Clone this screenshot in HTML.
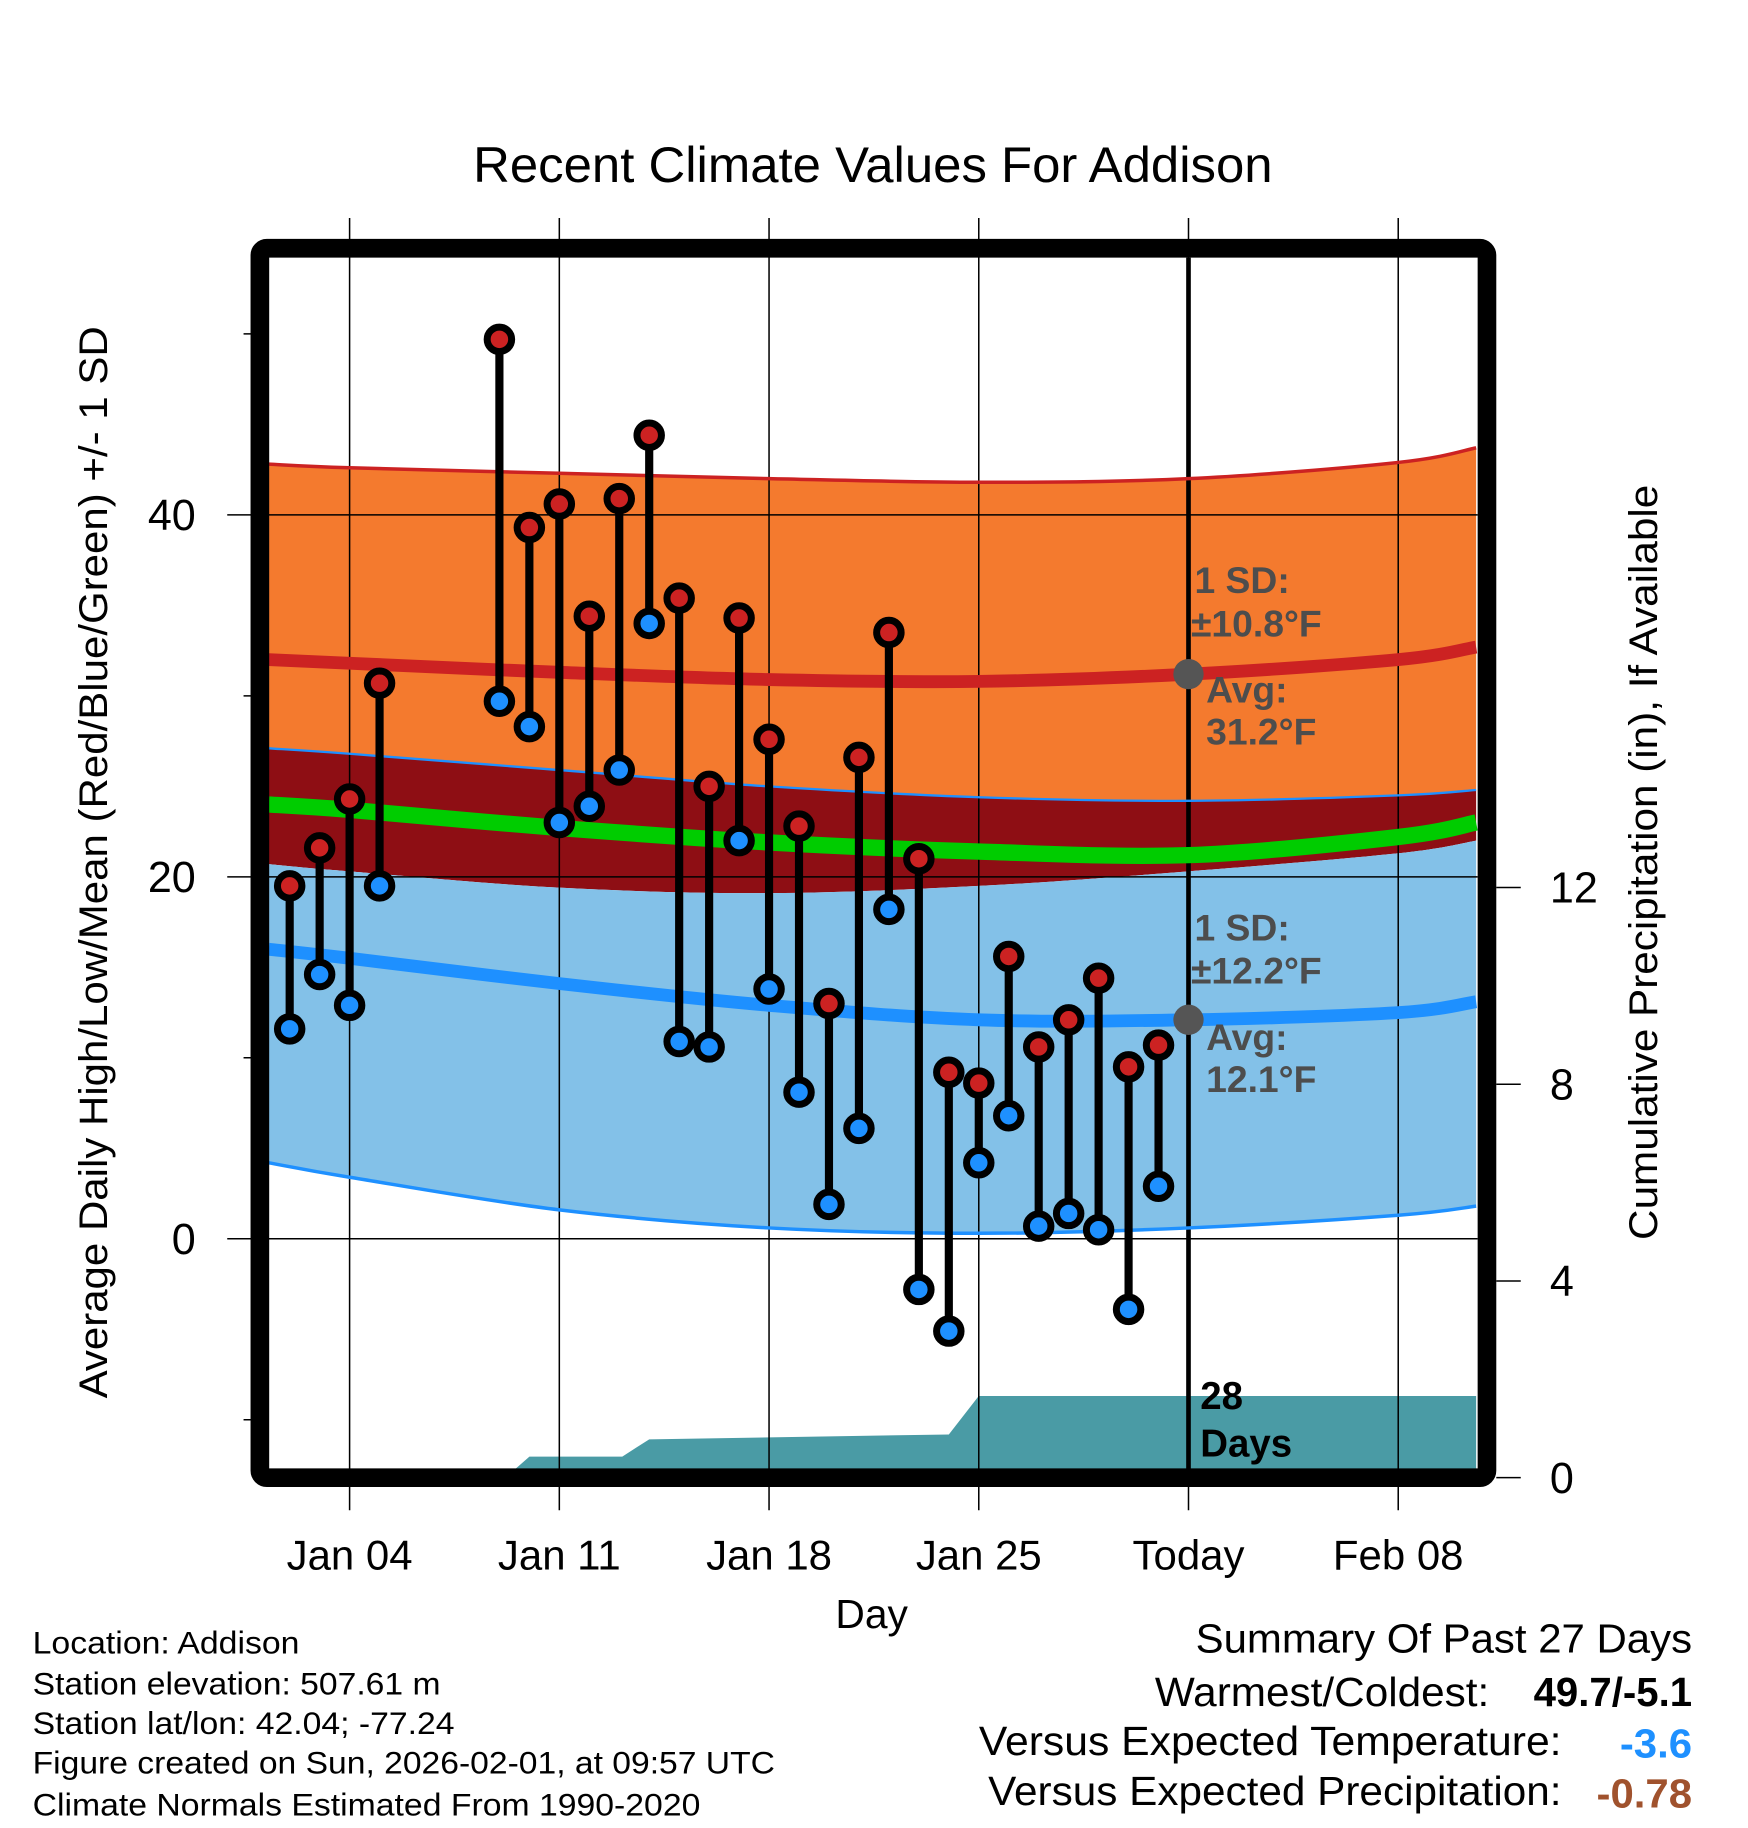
<!DOCTYPE html>
<html><head><meta charset="utf-8"><style>
html,body{margin:0;padding:0;background:#fff}
svg{display:block;font-family:"Liberation Sans",Arial,sans-serif}
</style></head><body>
<svg id="chart" xmlns="http://www.w3.org/2000/svg" width="1748" height="1828" viewBox="0 0 1500 1568.6">
<text x="749" y="156" font-size="43" text-anchor="middle" textLength="686" lengthAdjust="spacingAndGlyphs">Recent Climate Values For Addison</text>
<g id="fills"></g>
<g id="grid"></g>
<g id="lines"></g>
<g id="marks"></g>
<g id="annot"></g>
<rect x="223" y="213" width="1053" height="1055" rx="6" fill="none" stroke="#000" stroke-width="16"/>
<g id="axes"></g>
<text transform="translate(92,740) rotate(-90)" font-size="34" text-anchor="middle" textLength="920" lengthAdjust="spacingAndGlyphs">Average Daily High/Low/Mean (Red/Blue/Green) +/- 1 SD</text>
<text transform="translate(1422,740) rotate(-90)" font-size="34" text-anchor="middle" textLength="648" lengthAdjust="spacingAndGlyphs">Cumulative Precipitation (in), If Available</text>
<text x="748" y="1397" font-size="35" text-anchor="middle">Day</text>
<g font-size="27">
<text x="28" y="1419" textLength="229" lengthAdjust="spacingAndGlyphs">Location: Addison</text>
<text x="28" y="1454" textLength="350" lengthAdjust="spacingAndGlyphs">Station elevation: 507.61 m</text>
<text x="28" y="1488" textLength="362" lengthAdjust="spacingAndGlyphs">Station lat/lon: 42.04; -77.24</text>
<text x="28" y="1522" textLength="637" lengthAdjust="spacingAndGlyphs">Figure created on Sun, 2026-02-01, at 09:57 UTC</text>
<text x="28" y="1558" textLength="573" lengthAdjust="spacingAndGlyphs">Climate Normals Estimated From 1990-2020</text>
</g>
<g font-size="35" text-anchor="end">
<text x="1452" y="1418" textLength="426" lengthAdjust="spacingAndGlyphs">Summary Of Past 27 Days</text>
<text x="1278" y="1464" textLength="287" lengthAdjust="spacingAndGlyphs">Warmest/Coldest:</text>
<text x="1452" y="1464" font-weight="bold" textLength="136" lengthAdjust="spacingAndGlyphs">49.7/-5.1</text>
<text x="1340" y="1506" textLength="500" lengthAdjust="spacingAndGlyphs">Versus Expected Temperature:</text>
<text x="1452" y="1508" font-weight="bold" fill="#1E90FF" textLength="62" lengthAdjust="spacingAndGlyphs">-3.6</text>
<text x="1340" y="1549" textLength="492" lengthAdjust="spacingAndGlyphs">Versus Expected Precipitation:</text>
<text x="1452" y="1551" font-weight="bold" fill="#A0522D" textLength="82" lengthAdjust="spacingAndGlyphs">-0.78</text>
</g>
</svg>
<script>
const obsDays=[2,3,4,5,9,10,11,12,13,14,15,16,17,18,19,20,21,22,23,24,25,26,27,28,29,30,31];
const obsHigh=[19.5,21.6,24.3,30.7,49.7,39.3,40.6,34.4,40.9,44.4,35.4,25.0,34.3,27.6,22.8,13.0,26.6,33.5,21.0,9.2,8.6,15.6,10.6,12.1,14.4,9.5,10.7];
const obsLow=[11.6,14.6,12.9,19.5,29.7,28.3,23.0,23.9,25.9,34.0,10.9,10.6,22.0,13.8,8.1,1.9,6.1,18.2,-2.8,-5.1,4.2,6.8,0.7,1.4,0.5,-3.9,2.9];
const normDays=[1.3,4,11,18,25,32,39,41.6];
const highUpper=[42.8,42.6,42.3,42.0,41.8,42.0,42.9,43.7];
const highAvg=[32.0,31.8,31.3,30.9,30.8,31.2,32.0,32.7];
const highLower=[27.1,26.8,25.9,25.0,24.4,24.2,24.5,24.8];
const meanAvg=[24.0,23.7,22.7,21.9,21.4,21.2,22.2,23.0];
const lowUpper=[20.7,20.3,19.4,19.1,19.5,20.3,21.3,22.0];
const lowAvg=[16.0,15.5,14.1,12.9,12.1,12.1,12.5,13.1];
const lowLower=[4.2,3.4,1.6,0.6,0.3,0.6,1.3,1.8];
const precipDays=[1.3,9.2,10,13.1,14,24,25,31,41.6];
const precipCum=[0,0,0.43,0.43,0.78,0.88,1.66,1.66,1.66];
const yTicks=[0,20,40];
const yMinor=[-10,10,30,50];
const y2Ticks=[0,4,8,12];
const xTickDays=[4,11,18,25,32,39];
const xTickLabels=['Jan 04','Jan 11','Jan 18','Jan 25','Today','Feb 08'];

const NS='http://www.w3.org/2000/svg';
const X=d=>300+(d-4)*25.71;
const Y=v=>1063-v*15.53;
const P=v=>1268-v*42.2;
function mk(tag,attrs,parent){const e=document.createElementNS(NS,tag);for(const k in attrs)e.setAttribute(k,attrs[k]);document.getElementById(parent).appendChild(e);return e;}
function pts(xs,ys,f){return xs.map((d,i)=>X(d).toFixed(1)+','+f(ys[i]).toFixed(1));}
// smooth curve through points (Catmull-Rom -> Bezier)
function curvePts(arr){return normDays.map((d,i)=>[X(d),Y(arr[i])]);}
function smooth(p,start){
  let s=start?('M'+p[0][0].toFixed(1)+','+p[0][1].toFixed(1)):('L'+p[0][0].toFixed(1)+','+p[0][1].toFixed(1));
  for(let i=0;i<p.length-1;i++){
    const p0=p[i-1]||p[i],p1=p[i],p2=p[i+1],p3=p[i+2]||p[i+1];
    const c1=[p1[0]+(p2[0]-p0[0])/6,p1[1]+(p2[1]-p0[1])/6];
    const c2=[p2[0]-(p3[0]-p1[0])/6,p2[1]-(p3[1]-p1[1])/6];
    s+=' C'+c1.map(v=>v.toFixed(1)).join(',')+' '+c2.map(v=>v.toFixed(1)).join(',')+' '+p2.map(v=>v.toFixed(1)).join(',');
  }
  return s;
}
function band(up,lo,fill,name){
  const d=smooth(curvePts(up),true)+' '+smooth(curvePts(lo).reverse(),false)+' Z';
  const e=mk('path',{d:d,fill:fill},'fills');
  
  
}
band(highUpper,highLower,'#F47A2E','high-sd-band');
band(highLower,lowUpper,'#8E0E14','gap-band');
band(lowUpper,lowLower,'#83C1E8','low-sd-band');
{
  const p=pts(precipDays,precipCum,P);
  p.push(X(41.6).toFixed(1)+',1268',X(1.3).toFixed(1)+',1268');
  const e=mk('polygon',{points:p.join(' '),fill:'#4A9BA5'},'fills');
  
  
}
function line(arr,color,w,name){
  const e=mk('path',{d:smooth(curvePts(arr),true),fill:'none',stroke:color,'stroke-width':w},'lines');
  
  
}
line(highUpper,'#CC2222',3,'high-upper-sd-line');
line(highLower,'#1E90FF',2,'high-lower-sd-line');
line(lowLower,'#1E90FF',3,'low-lower-sd-line');
line(highAvg,'#CC2222',11,'avg-high-line');
line(meanAvg,'#00CC00',14,'avg-mean-line');
line(lowAvg,'#1E90FF',11,'avg-low-line');
xTickDays.forEach((d,i)=>{
  const g=mk('line',{x1:X(d),x2:X(d),y1:187,y2:1296,stroke:'#000','stroke-width':1.3},'grid');
  
  
  const t=mk('text',{x:X(d),y:1347,'font-size':36,'text-anchor':'middle'},'axes');
  t.textContent=xTickLabels[i];
  
  
});
{
  const g=mk('line',{x1:X(32),x2:X(32),y1:221,y2:1262,stroke:'#000','stroke-width':4},'grid');
  
  
}
yTicks.forEach(v=>{
  const g=mk('line',{x1:195,x2:1268,y1:Y(v),y2:Y(v),stroke:'#000','stroke-width':1.3},'grid');
  
  
  const t=mk('text',{x:168,y:Y(v)+13,'font-size':37,'text-anchor':'end'},'axes');
  t.textContent=v;
  
  
});
yMinor.forEach(v=>{
  const g=mk('line',{x1:209,x2:223,y1:Y(v),y2:Y(v),stroke:'#000','stroke-width':1.3},'axes');
  
  
});
y2Ticks.forEach(v=>{
  const g=mk('line',{x1:1284,x2:1305,y1:P(v),y2:P(v),stroke:'#000','stroke-width':1.3},'axes');
  
  
  const t=mk('text',{x:1330,y:P(v)+13,'font-size':37},'axes');
  t.textContent=v;
  
  
});
obsDays.forEach((d,i)=>{
  const s=mk('line',{x1:X(d),x2:X(d),y1:Y(obsHigh[i]),y2:Y(obsLow[i]),stroke:'#000','stroke-width':7},'marks');
  
  
  const h=mk('circle',{cx:X(d),cy:Y(obsHigh[i]),r:10.5,fill:'#CC2222',stroke:'#000','stroke-width':6},'marks');
  
  
  const l=mk('circle',{cx:X(d),cy:Y(obsLow[i]),r:10.5,fill:'#1E90FF',stroke:'#000','stroke-width':6},'marks');
  
  
});
const tx=X(32);
[[31.2,'avg-high-marker'],[12.1,'avg-low-marker']].forEach(a=>{
  const c=mk('circle',{cx:tx,cy:Y(a[0]),r:13,fill:'#555'},'annot');
  
  
});
const labels=[['1 SD:',1025,509],['±10.8°F',1022,546],['Avg:',1035,603],['31.2°F',1035,639],['1 SD:',1025,807],['±12.2°F',1022,844],['Avg:',1035,901],['12.1°F',1035,937]];
labels.forEach(l=>{
  const t=mk('text',{x:l[1],y:l[2],'font-size':32,'font-weight':'bold',fill:'#4d4d4d'},'annot');
  t.textContent=l[0];
  
  
});
[['28',1209],['Days',1250]].forEach(l=>{
  const t=mk('text',{x:1030,y:l[1],'font-size':33,'font-weight':'bold',fill:'#000'},'annot');
  t.textContent=l[0];
  
  
});
</script>
</body></html>
